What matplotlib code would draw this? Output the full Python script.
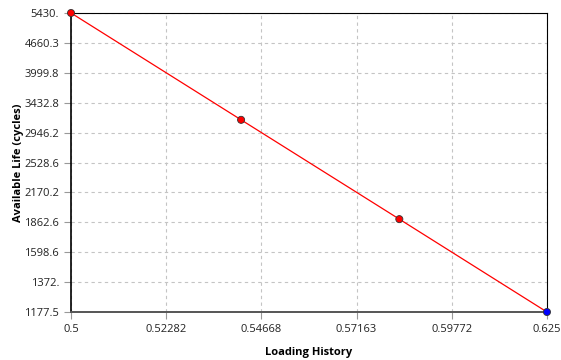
import matplotlib.pyplot as plt
from matplotlib.ticker import FixedLocator, FixedFormatter, NullLocator

plt.rcParams['font.family'] = ['Open Sans', 'DejaVu Sans']

# loading history vs available life
load = [0.5, 0.5415, 0.5832, 0.625]
life = [5430.0, 3145.0, 1893.0, 1177.5]
pt_colors = ['red', 'red', 'red', 'blue']

x_ticks = [0.5, 0.52282, 0.54668, 0.57163, 0.59772, 0.625]
x_labels = ['0.5', '0.52282', '0.54668', '0.57163', '0.59772', '0.625']
y_ticks = [1177.5, 1372, 1598.6, 1862.6, 2170.2, 2528.6, 2946.2,
           3432.8, 3999.8, 4660.3, 5430]
y_labels = ['1177.5', '1372.', '1598.6', '1862.6', '2170.2', '2528.6',
            '2946.2', '3432.8', '3999.8', '4660.3', '5430.']

fig = plt.figure(figsize=(5.61, 3.6), dpi=100)
ax = fig.add_axes([0.1266, 0.1333, 0.8484, 0.8306])

ax.plot(load, life, color='red', lw=0.9, zorder=3)
ax.scatter(load, life, c=pt_colors, s=26, edgecolors='#333333',
           linewidths=0.6, zorder=4, clip_on=False)

ax.set_xscale('log')
ax.set_yscale('log')
ax.set_xlim(0.5, 0.625)
ax.set_ylim(1177.5, 5430)

ax.xaxis.set_major_locator(FixedLocator(x_ticks))
ax.xaxis.set_major_formatter(FixedFormatter(x_labels))
ax.xaxis.set_minor_locator(NullLocator())
ax.yaxis.set_major_locator(FixedLocator(y_ticks))
ax.yaxis.set_major_formatter(FixedFormatter(y_labels))
ax.yaxis.set_minor_locator(NullLocator())

ax.grid(True, ls=(0, (3, 3)), color='#c4c4c4', lw=0.8)
ax.tick_params(length=5, color='#999999', labelsize=8, labelcolor='#222222',
               width=0.8)

ax.spines['left'].set_color('black')
ax.spines['left'].set_linewidth(1.2)
ax.spines['bottom'].set_color('#555555')
ax.spines['bottom'].set_linewidth(1.4)
ax.spines['top'].set_linewidth(0.8)
ax.spines['right'].set_linewidth(0.8)

ax.set_xlabel('Loading History', fontsize=8, fontweight='bold', labelpad=9)
ax.set_ylabel('Available Life (cycles)', fontsize=8, fontweight='bold', labelpad=0)

fig.savefig('out.png', dpi=100)
